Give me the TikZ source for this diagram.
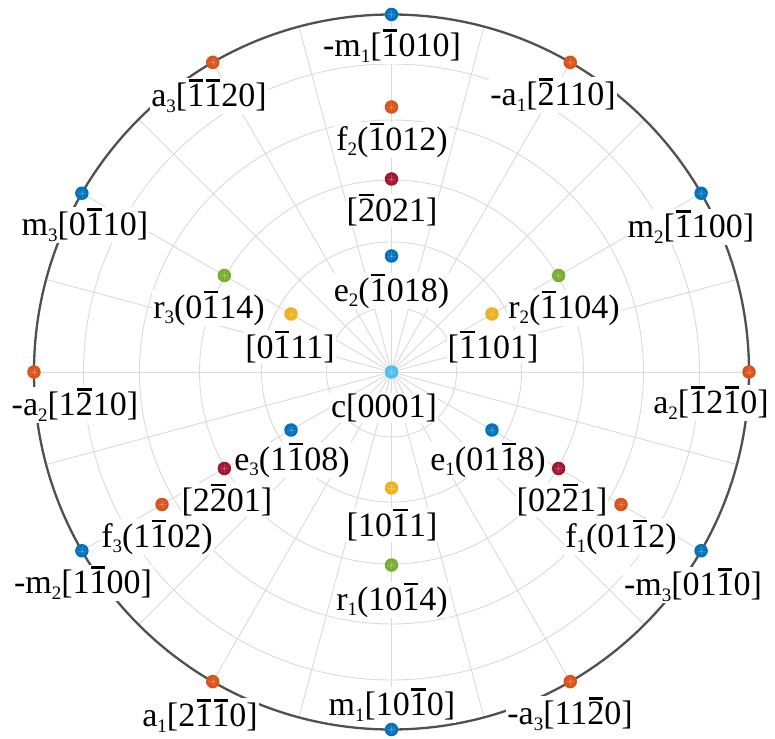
\documentclass[tikz,border=0pt]{standalone}
\usepackage{fontspec}
\setmainfont{Liberation Serif}
\usetikzlibrary{calc}
\definecolor{mBlue}{RGB}{0,114,189}
\definecolor{mOrange}{RGB}{217,83,25}
\definecolor{mYellow}{RGB}{237,177,32}
\definecolor{mGreen}{RGB}{119,172,48}
\definecolor{mCyan}{RGB}{77,190,238}
\definecolor{mRed}{RGB}{162,20,47}
\definecolor{gridGris}{RGB}{218,218,218}
\definecolor{bordeGris}{RGB}{80,80,80}
\newcommand{\ob}[1]{\setbox0\hbox{#1}\rlap{\hspace{0.04em}\rule[0.74em]{\dimexpr\wd0-0.08em\relax}{0.07em}}\box0\relax}
\newcommand{\ix}[1]{\raisebox{-0.17em}{\fontsize{19}{19}\selectfont #1}}

\begin{document}
\begin{tikzpicture}[x=1pt, y=1pt,
    grd/.style={draw=gridGris, line width=0.9pt},
    dot/.style={circle, fill=#1, inner sep=0pt, minimum size=13.5pt,
      path picture={\foreach \t in {0,45,90,135}
        \draw[white, opacity=0.18, line width=0.4pt]
          ($(path picture bounding box.center)+(\t:4.5pt)$) -- ($(path picture bounding box.center)+(\t+180:4.5pt)$);}},
    lbl/.style={fill=white, inner sep=1pt, font=\fontsize{34}{40}\selectfont}]
  \useasboundingbox (-391.5,-366) rectangle (383.5,372);
  % rejilla polar
  \foreach \r in {65,130,192,252,308}
    \draw[grd] (0,0) circle (\r pt);
  \foreach \a in {0,15,...,345}
    \draw[grd] (0,0) -- (\a:357.5pt);
  \draw[bordeGris, line width=2.3pt] (0,0) circle (357.5pt);

  % etiquetas
  \node[lbl] (lmm1) at (0.5,326) {-m\ix{1}[\ob{1}010]};
  \node[lbl] (la3) at (-182.5,276) {a\ix{3}[\ob{1}\ob{1}20]};
  \node[lbl] (lma1) at (161.5,277) {-a\ix{1}[\ob{2}110]};
  \node[lbl] (lf2) at (0.5,232) {f\ix{2}(\ob{1}012)};
  \node[lbl] (lp2) at (0.5,162) {[\ob{2}021]};
  \node[lbl] (lm3) at (-306.5,147) {m\ix{3}[0\ob{1}10]};
  \node[lbl] (lm2) at (299.5,145) {m\ix{2}[\ob{1}100]};
  \node[lbl] (le2) at (0,81) {e\ix{2}(\ob{1}018)};
  \node[lbl] (lr3) at (-182.5,64) {r\ix{3}(0\ob{1}14)};
  \node[lbl] (lr2) at (172.5,64) {r\ix{2}(\ob{1}104)};
  \node[lbl] (ly3) at (-101.5,25) {[0\ob{1}11]};
  \node[lbl] (ly2) at (101.5,25) {[\ob{1}101]};
  \node[lbl] (lma2) at (-316.5,-33) {-a\ix{2}[1\ob{2}10]};
  \node[lbl] (la2) at (319.5,-31) {a\ix{2}[\ob{1}2\ob{1}0]};
  \node[lbl] (lc) at (-7.5,-36) {c[0001]};
  \node[lbl] (le3) at (-99.5,-88) {e\ix{3}(1\ob{1}08)};
  \node[lbl] (le1) at (96.5,-88) {e\ix{1}(01\ob{1}8)};
  \node[lbl] (lp3) at (-164.5,-128) {[2\ob{2}01]};
  \node[lbl] (lp1) at (170.5,-128) {[02\ob{2}1]};
  \node[lbl] (lf3) at (-234.5,-165) {f\ix{3}(1\ob{1}02)};
  \node[lbl] (lf1) at (229.5,-165) {f\ix{1}(01\ob{1}2)};
  \node[lbl] (ly1) at (0.5,-153) {[10\ob{1}1]};
  \node[lbl] (lmm2) at (-308.5,-211) {-m\ix{2}[1\ob{1}00]};
  \node[lbl] (lmm3) at (301.5,-213) {-m\ix{3}[01\ob{1}0]};
  \node[lbl] (lr1) at (0.5,-228) {r\ix{1}(10\ob{1}4)};
  \node[lbl] (la1) at (-191.5,-344) {a\ix{1}[2\ob{1}\ob{1}0]};
  \node[lbl] (lm1) at (0.5,-333) {m\ix{1}[10\ob{1}0]};
  \node[lbl] (lma3) at (178.5,-342) {-a\ix{3}[11\ob{2}0]};

  % polos
  \node[dot=mCyan] (c) at (0,0) {};
  \node[dot=mBlue] (e2) at (90:116pt) {};
  \node[dot=mBlue] (e3) at (210:116pt) {};
  \node[dot=mBlue] (e1) at (-30:116pt) {};
  \node[dot=mYellow] (y2) at (30:116pt) {};
  \node[dot=mYellow] (y3) at (150:116pt) {};
  \node[dot=mYellow] (y1) at (270:116pt) {};
  \node[dot=mGreen] (r2) at (30:193pt) {};
  \node[dot=mGreen] (r3) at (150:193pt) {};
  \node[dot=mGreen] (r1) at (270:193pt) {};
  \node[dot=mRed] (p2) at (90:193pt) {};
  \node[dot=mRed] (p3) at (210:193pt) {};
  \node[dot=mRed] (p1) at (-30:193pt) {};
  \node[dot=mOrange] (f2) at (90:265pt) {};
  \node[dot=mOrange] (f3) at (210:265pt) {};
  \node[dot=mOrange] (f1) at (-30:265pt) {};
  \node[dot=mBlue] (mm1) at (90:357.5pt) {};
  \node[dot=mBlue] (m2) at (30:357.5pt) {};
  \node[dot=mBlue] (m3) at (150:357.5pt) {};
  \node[dot=mBlue] (mm2) at (210:357.5pt) {};
  \node[dot=mBlue] (mm3) at (-30:357.5pt) {};
  \node[dot=mBlue] (m1) at (270:357.5pt) {};
  \node[dot=mOrange] (a2) at (0:357.5pt) {};
  \node[dot=mOrange] (ma1) at (60:357.5pt) {};
  \node[dot=mOrange] (a3) at (120:357.5pt) {};
  \node[dot=mOrange] (ma2) at (180:357.5pt) {};
  \node[dot=mOrange] (a1) at (240:357.5pt) {};
  \node[dot=mOrange] (ma3) at (300:357.5pt) {};
\end{tikzpicture}
\end{document}
